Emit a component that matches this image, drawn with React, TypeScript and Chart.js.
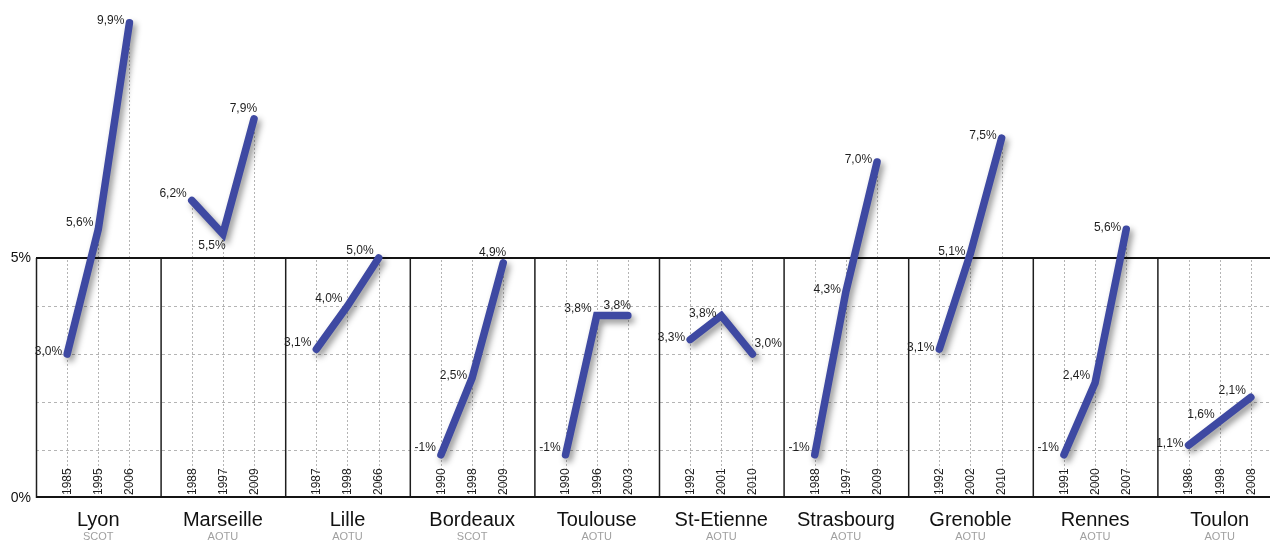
import { useEffect, useRef } from 'react';
import { Chart, registerables } from 'chart.js';

Chart.register(...registerables);

// ---------- data ----------
const cities = ['Lyon', 'Marseille', 'Lille', 'Bordeaux', 'Toulouse', 'St-Etienne', 'Strasbourg', 'Grenoble', 'Rennes', 'Toulon'];
const perimeters = ['SCOT', 'AOTU', 'AOTU', 'SCOT', 'AOTU', 'AOTU', 'AOTU', 'AOTU', 'AOTU', 'AOTU'];
const years = [
  ['1985', '1995', '2006'],
  ['1988', '1997', '2009'],
  ['1987', '1998', '2066'],
  ['1990', '1998', '2009'],
  ['1990', '1996', '2003'],
  ['1992', '2001', '2010'],
  ['1988', '1997', '2009'],
  ['1992', '2002', '2010'],
  ['1991', '2000', '2007'],
  ['1986', '1998', '2008'],
];
const rates = [
  [3.0, 5.6, 9.9],
  [6.2, 5.5, 7.9],
  [3.1, 4.0, 5.0],
  [0.9, 2.5, 4.9],
  [0.9, 3.8, 3.8],
  [3.3, 3.8, 3.0],
  [0.9, 4.3, 7.0],
  [3.1, 5.1, 7.5],
  [0.9, 2.4, 5.6],
  [1.1, 1.6, 2.1],
];
const rateLabels = [
  ['3,0%', '5,6%', '9,9%'],
  ['6,2%', '5,5%', '7,9%'],
  ['3,1%', '4,0%', '5,0%'],
  ['-1%', '2,5%', '4,9%'],
  ['-1%', '3,8%', '3,8%'],
  ['3,3%', '3,8%', '3,0%'],
  ['-1%', '4,3%', '7,0%'],
  ['3,1%', '5,1%', '7,5%'],
  ['-1%', '2,4%', '5,6%'],
  ['1,1%', '1,6%', '2,1%'],
];
const yTickValues = [0, 5];
const dashedLevels = [1, 2, 3, 4];
const gridTop = 5;

// ---------- style ----------
const labelPlacement = [
  ['m', 'l', 'm'],
  ['l', 'b', 'a'],
  ['l', 'l', 'l'],
  ['l', 'm', 'a'],
  ['l', 'l', 'a'],
  ['m', 'm', 'r'],
  ['l', 'm', 'm'],
  ['m', 'm', 'm'],
  ['l', 'l', 'm'],
  ['m', 'l', 'l'],
];
const placements: Record<string, { align: CanvasTextAlign; dx: number; dy: number }> = {
  l: { align: 'right', dx: -5, dy: -7 },
  m: { align: 'right', dx: -5, dy: -2 },
  b: { align: 'center', dx: -11, dy: 12 },
  a: { align: 'right', dx: 3, dy: -10 },
  r: { align: 'left', dx: 2, dy: -10 },
};
const LINE_COLOR = '#3e49a2';
const FONT = "'Liberation Sans', Arial, sans-serif";
const SLOTS = 4;
const X_MAX = 39.615;

const slotX = (i: number, j: number) => SLOTS * i + j + 1;

const zeroPad = (s: any) => {
  s.paddingTop = 0;
  s.paddingBottom = 0;
  s.paddingLeft = 0;
  s.paddingRight = 0;
};

const backdropPlugin = {
  id: 'backdrop',
  beforeDatasetsDraw(chart: any) {
    const { ctx, chartArea } = chart;
    const xs = chart.scales.x;
    const ys = chart.scales.y;
    const y0 = ys.getPixelForValue(0);
    const y5 = ys.getPixelForValue(gridTop);
    ctx.save();
    ctx.strokeStyle = '#b4b4b4';
    ctx.lineWidth = 1;
    ctx.setLineDash([3, 3]);
    dashedLevels.forEach((v) => {
      const y = Math.round(ys.getPixelForValue(v)) + 0.5;
      ctx.beginPath();
      ctx.moveTo(chartArea.left, y);
      ctx.lineTo(chartArea.right, y);
      ctx.stroke();
    });
    ctx.setLineDash([2, 2]);
    rates.forEach((row, i) => {
      row.forEach((v, j) => {
        const x = Math.round(xs.getPixelForValue(slotX(i, j))) + 0.5;
        const top = ys.getPixelForValue(Math.max(gridTop, v));
        ctx.beginPath();
        ctx.moveTo(x, y0);
        ctx.lineTo(x, top);
        ctx.stroke();
      });
    });
    ctx.setLineDash([]);
    ctx.strokeStyle = '#1e1e1e';
    ctx.lineWidth = 1.5;
    cities.forEach((_, i) => {
      const x = xs.getPixelForValue(SLOTS * i) + 0.5;
      ctx.beginPath();
      ctx.moveTo(x, y0);
      ctx.lineTo(x, y5);
      ctx.stroke();
    });
    ctx.lineWidth = 2;
    ctx.strokeStyle = '#141414';
    [y0 - 1, y5].forEach((y) => {
      ctx.beginPath();
      ctx.moveTo(chartArea.left, y);
      ctx.lineTo(chartArea.right, y);
      ctx.stroke();
    });
    ctx.fillStyle = '#1e1e1e';
    ctx.font = `12px ${FONT}`;
    ctx.textAlign = 'left';
    ctx.textBaseline = 'middle';
    years.forEach((row, i) => {
      row.forEach((yr, j) => {
        const x = xs.getPixelForValue(slotX(i, j));
        ctx.save();
        ctx.translate(x + 0.5, y0 - 3);
        ctx.rotate(-Math.PI / 2);
        ctx.fillText(yr, 0, 0);
        ctx.restore();
      });
    });
    ctx.restore();
  },
  afterDatasetsDraw(chart: any) {
    const { ctx } = chart;
    const xs = chart.scales.x;
    const ys = chart.scales.y;
    ctx.save();
    ctx.fillStyle = '#1e1e1e';
    ctx.font = `12px ${FONT}`;
    ctx.textBaseline = 'middle';
    rateLabels.forEach((row, i) => {
      row.forEach((txt, j) => {
        const p = placements[labelPlacement[i][j]];
        const x = xs.getPixelForValue(slotX(i, j));
        const y = ys.getPixelForValue(rates[i][j]);
        ctx.textAlign = p.align;
        ctx.fillText(txt, x + p.dx, y + p.dy);
      });
    });
    ctx.restore();
  },
};

const shadowPlugin = {
  id: 'lineShadow',
  beforeDatasetDraw(chart: any) {
    const c = chart.ctx;
    c.save();
    c.shadowColor = 'rgba(0,0,0,0.42)';
    c.shadowBlur = 6;
    c.shadowOffsetX = 3;
    c.shadowOffsetY = 4;
  },
  afterDatasetDraw(chart: any) {
    chart.ctx.restore();
  },
};

export default function App() {
  const ref = useRef<HTMLCanvasElement>(null);
  useEffect(() => {
    if (!ref.current) return;
    const datasets = cities.map((c, i) => ({
      label: c,
      data: rates[i].map((v, j) => ({ x: slotX(i, j), y: v })),
      borderColor: LINE_COLOR,
      backgroundColor: LINE_COLOR,
      borderWidth: 7.5,
      borderCapStyle: 'round' as const,
      borderJoinStyle: 'miter' as const,
      pointRadius: 0,
      pointHoverRadius: 0,
      tension: 0,
      fill: false,
      clip: false,
    }));
    const chart = new Chart(ref.current, {
      type: 'line',
      data: { datasets },
      options: {
        animation: false,
        responsive: false,
        events: [],
        layout: { padding: 0 },
        plugins: {
          legend: { display: false },
          tooltip: { enabled: false },
          title: { display: false },
        },
        scales: {
          x: {
            type: 'linear',
            position: 'bottom',
            min: 0,
            max: X_MAX,
            grid: { display: false, drawTicks: false },
            border: { display: false },
            afterBuildTicks: (s: any) => {
              s.ticks = cities.map((_, i) => ({ value: SLOTS * i + 2 }));
            },
            afterFit: (s: any) => {
              s.height = 33;
              zeroPad(s);
            },
            ticks: {
              autoSkip: false,
              maxRotation: 0,
              padding: 10,
              color: '#111',
              font: { family: FONT, size: 20 },
              callback: (_v: any, idx: number) => cities[idx],
            },
          },
          x2: {
            type: 'linear',
            position: 'bottom',
            weight: 1,
            min: 0,
            max: X_MAX,
            grid: { display: false, drawTicks: false },
            border: { display: false },
            afterBuildTicks: (s: any) => {
              s.ticks = perimeters.map((_, i) => ({ value: SLOTS * i + 2 }));
            },
            afterFit: (s: any) => {
              s.height = 10;
              zeroPad(s);
            },
            ticks: {
              autoSkip: false,
              maxRotation: 0,
              padding: -1,
              color: '#a0a0a0',
              font: { family: FONT, size: 11 },
              callback: (_v: any, idx: number) => perimeters[idx],
            },
          },
          y: {
            type: 'linear',
            min: 0,
            max: 10.375,
            grid: { display: false, drawTicks: false },
            border: { display: false },
            afterBuildTicks: (s: any) => {
              s.ticks = yTickValues.map((v) => ({ value: v }));
            },
            afterFit: (s: any) => {
              s.width = 36;
              zeroPad(s);
            },
            ticks: {
              padding: 5,
              color: '#111',
              font: { family: FONT, size: 14 },
              callback: (v: any) => `${v}%`,
            },
          },
        },
      },
      plugins: [backdropPlugin, shadowPlugin],
    } as any);
    return () => chart.destroy();
  }, []);
  return (
    <div style={{ position: 'absolute', left: 0, top: 0, width: 1270, height: 541, background: '#fff' }}>
      <canvas ref={ref} width={1270} height={541} style={{ display: 'block' }} />
    </div>
  );
}
